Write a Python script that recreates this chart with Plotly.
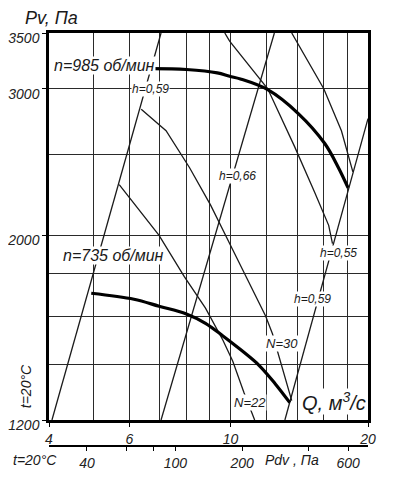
import numpy as np
import plotly.graph_objects as go

# fan chart, log-log: Q [m3/s] vs Pv [Pa]
FONT = "Liberation Sans"

# thick pressure curves, two speeds
n985_q = [6.70, 8.00, 9.35, 9.95, 10.51, 12.06, 14.07, 16.08, 17.23, 18.09]
n985_p = [3172, 3164, 3135, 3105, 3082, 2992, 2801, 2578, 2411, 2280]
n735_q = [4.95, 6.14, 6.97, 8.00, 8.81, 9.62, 10.51, 11.54, 12.53, 13.48]
n735_p = [1704, 1676, 1644, 1609, 1568, 1514, 1458, 1396, 1326, 1259]

# thin lines (steep ones and the falling ones)
l1_q, l1_p = [4.06, 7.04], [1200, 3500]
l2_q, l2_p = [7.04, 12.47], [1200, 3500]
l3_q, l3_p = [13.15, 20.0], [1200, 2762]
d0_q = [5.70, 6.97, 7.91, 8.81, 9.62, 10.11, 10.69, 11.29]
d0_p = [2301, 2000, 1785, 1635, 1496, 1412, 1296, 1200]
d1_q = [6.37, 7.22, 8.13, 9.04, 9.95, 11.93, 12.35, 12.66, 13.61]
d1_p = [2835, 2671, 2411, 2174, 1955, 1600, 1523, 1454, 1266]
d2_q = [9.71, 9.95, 12.06, 13.81, 15.27, 16.40, 16.72]
d2_p = [3500, 3423, 3000, 2556, 2255, 2056, 1955]
d3_q = [13.61, 16.0, 17.49, 18.53]
d3_p = [3500, 3000, 2671, 2384]

# axes
q_ticks = [4, 6, 10, 20]
q_grid = [5, 7, 8, 9, 12, 14, 16, 18]
p_ticks = [1200, 2000, 3000, 3500]
p_grid = [1400, 1600, 1800, 2500]
pdv_ticks = [40, 100, 200, 600]
pdv_minor = [60, 80, 400]

fig = go.Figure()

for q, p in [(l1_q, l1_p), (l2_q, l2_p), (l3_q, l3_p),
             (d0_q, d0_p), (d1_q, d1_p), (d2_q, d2_p), (d3_q, d3_p)]:
    fig.add_trace(go.Scatter(x=q, y=p, mode="lines", line=dict(color="#1a1a1a", width=1.3),
                             hoverinfo="skip", showlegend=False))

for q, p in [(n985_q, n985_p), (n735_q, n735_p)]:
    fig.add_trace(go.Scatter(x=q, y=p, mode="lines", line=dict(color="black", width=3.2, shape="spline"),
                             hoverinfo="skip", showlegend=False))

# dummy trace so the Pdv axis gets drawn
fig.add_trace(go.Scatter(x=pdv_ticks, y=[None] * len(pdv_ticks), xaxis="x2", yaxis="y",
                         mode="markers", hoverinfo="skip", showlegend=False))

grid = dict(showgrid=True, gridcolor="#2a2a2a", gridwidth=1.4)
tick_font = dict(family=FONT, size=14, color="#222", style="italic")

# page body has an 8px margin, so the figure is 8px smaller and margins shifted
fig.update_layout(
    width=392, height=470,
    margin=dict(l=41, r=32, t=25, b=20),
    plot_bgcolor="white", paper_bgcolor="white",
    xaxis=dict(type="log", range=[np.log10(4), np.log10(20)], automargin=False,
               tickvals=q_ticks, ticktext=[str(v) for v in q_ticks],
               ticks="outside", ticklen=4, tickcolor="black", tickfont=tick_font,
               minor=dict(tickvals=q_grid, ticks="", **grid), **grid,
               showline=True, linewidth=2.5, linecolor="black", mirror=True, zeroline=False),
    yaxis=dict(type="log", range=[np.log10(1200), np.log10(3500)], domain=[0.0894, 1],
               automargin=False, ticklabelshift=5,
               tickvals=p_ticks, ticktext=[str(v) for v in p_ticks],
               ticks="outside", ticklen=4, tickcolor="black", tickfont=tick_font,
               minor=dict(tickvals=p_grid, ticks="", **grid), **grid,
               showline=True, linewidth=2.5, linecolor="black", mirror=True, zeroline=False),
    xaxis2=dict(type="log", overlaying="x", anchor="free", position=0.028, side="bottom",
                automargin=False,
                range=[1.431, 2.868], tickvals=pdv_ticks, ticktext=[str(v) for v in pdv_ticks],
                ticks="outside", ticklen=4, tickcolor="black", tickfont=tick_font,
                minor=dict(tickvals=pdv_minor, ticks="outside", ticklen=4, tickcolor="black",
                           showgrid=False),
                showgrid=False, showline=True, linewidth=2, linecolor="black", zeroline=False),
)


def lab(q, p, text, size=12, xanchor="center", bg="white"):
    fig.add_annotation(x=np.log10(q), y=np.log10(p), text=text, showarrow=False,
                       xanchor=xanchor, yanchor="middle", bgcolor=bg, borderpad=0,
                       font=dict(family=FONT, size=size, color="#1a1a1a", style="italic"))


lab(4.08, 3195, "n=985 об/мин", size=16, xanchor="left")
lab(4.28, 1889, "n=735 об/мин", size=16, xanchor="left")
lab(6.67, 3000, "h=0,59")
lab(10.34, 2356, "h=0,66")
lab(17.23, 1902, "h=0,55")
lab(15.12, 1676, "h=0,59")
lab(20.19, 2349, "N=75", size=13)
lab(12.93, 1483, "N=30", size=13)
lab(11.05, 1259, "N=22", size=13)
lab(14.29, 1262, "Q, м<sup>3</sup>/с", size=20, xanchor="left")

# texts outside the plot area
paper_font = dict(family=FONT, color="#1a1a1a", style="italic")


def paper_lab(x, y, text, size=14, angle=0):
    fig.add_annotation(x=x, y=y, xref="paper", yref="paper", text=text, showarrow=False,
                       xanchor="center", yanchor="middle", textangle=angle,
                       font=dict(size=size, **paper_font))


paper_lab(0.0094, 1.0353, "Pv, Па", size=18)
paper_lab(-0.072, 0.169, "t=20°C", angle=-90)
paper_lab(-0.044, -0.005, "t=20°C")
paper_lab(0.762, -0.005, "Pdv , Па")

fig.write_html("out.html")
